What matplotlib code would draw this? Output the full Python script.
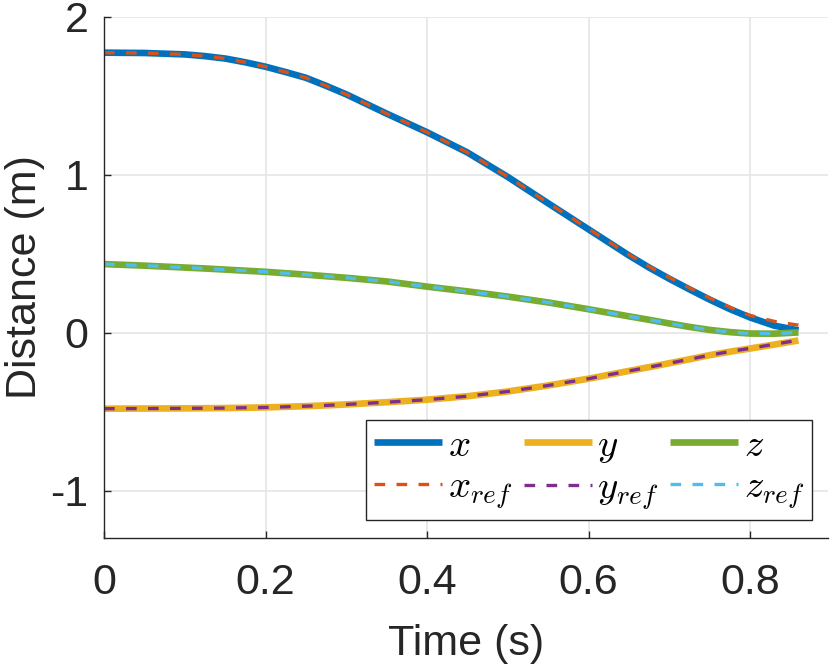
import numpy as np
import matplotlib.pyplot as plt

# values (time in s, distance in m)
t = [0.0, 0.05, 0.10, 0.125, 0.15, 0.175, 0.20, 0.225, 0.25, 0.275, 0.30, 0.35, 0.40,
     0.45, 0.50, 0.55, 0.60, 0.65, 0.675, 0.70, 0.725, 0.75, 0.775, 0.80, 0.83, 0.86]
x = [1.774, 1.772, 1.763, 1.752, 1.737, 1.713, 1.685, 1.651, 1.615, 1.564, 1.510, 1.388, 1.270,
     1.142, 0.987, 0.820, 0.655, 0.490, 0.413, 0.342, 0.275, 0.210, 0.150, 0.097, 0.045, 0.015]
x_ref = [1.774, 1.772, 1.763, 1.752, 1.737, 1.713, 1.685, 1.651, 1.615, 1.564, 1.510, 1.388, 1.270,
         1.142, 0.988, 0.822, 0.658, 0.495, 0.419, 0.350, 0.284, 0.220, 0.162, 0.110, 0.072, 0.048]
y = [-0.481, -0.480, -0.479, -0.478, -0.477, -0.475, -0.473, -0.469, -0.465, -0.460, -0.454, -0.440, -0.424,
     -0.402, -0.372, -0.334, -0.291, -0.242, -0.218, -0.193, -0.168, -0.142, -0.120, -0.100, -0.075, -0.049]
y_ref = [-0.481, -0.480, -0.479, -0.478, -0.477, -0.475, -0.473, -0.469, -0.465, -0.460, -0.454, -0.440, -0.424,
         -0.402, -0.372, -0.334, -0.291, -0.242, -0.218, -0.193, -0.168, -0.142, -0.119, -0.099, -0.073, -0.047]
z = [0.435, 0.425, 0.413, 0.407, 0.400, 0.393, 0.386, 0.377, 0.368, 0.358, 0.348, 0.325, 0.292,
     0.262, 0.229, 0.192, 0.149, 0.104, 0.082, 0.059, 0.037, 0.018, 0.004, -0.005, -0.006, 0.002]
z_ref = [0.435, 0.425, 0.413, 0.407, 0.400, 0.393, 0.386, 0.377, 0.368, 0.358, 0.348, 0.325, 0.292,
         0.262, 0.229, 0.192, 0.149, 0.104, 0.082, 0.059, 0.037, 0.018, 0.004, -0.004, -0.005, 0.002]

plt.rcParams['font.family'] = ['Liberation Sans', 'DejaVu Sans']
plt.rcParams['mathtext.fontset'] = 'cm'

fig = plt.figure(figsize=(8.3, 6.66), dpi=100)
ax = fig.add_axes([0.1253, 0.1922, 0.8723, 0.7823])

solid = dict(lw=4.8, solid_capstyle='butt', solid_joinstyle='round')
dash = dict(lw=2.4, dashes=(3.2, 3.4))
ax.plot(t, x, color='#0072BD', label='$x$', **solid)
ax.plot(t, x_ref, color='#D95319', label='$x_{ref}$', **dash)
ax.plot(t, y, color='#EDB120', label='$y$', **solid)
ax.plot(t, y_ref, color='#7E2F8E', label='$y_{ref}$', **dash)
ax.plot(t, z, color='#77AC30', label='$z$', **solid)
ax.plot(t, z_ref, color='#4DBEEE', label='$z_{ref}$', **dash)

ax.set_xlim(0, 0.8966)
ax.set_ylim(-1.3, 2)
ax.set_xticks([0, 0.2, 0.4, 0.6, 0.8])
ax.set_xticklabels(['0', '0.2', '0.4', '0.6', '0.8'])
ax.set_yticks([-1, 0, 1, 2])
ax.set_yticklabels(['-1', '0', '1', '2'])
ax.grid(True, color='#e5e5e5', lw=1.2)
ax.set_axisbelow(True)

for s in ['top', 'right']:
    ax.spines[s].set_visible(False)
for s in ['left', 'bottom']:
    ax.spines[s].set_color('#262626')
    ax.spines[s].set_linewidth(1.0)
ax.tick_params(direction='in', length=5, width=1.0, colors='#262626',
               labelsize=31)
ax.tick_params(axis='x', pad=18)
ax.tick_params(axis='y', pad=11)

ax.set_xlabel('Time (s)', fontsize=31, color='#262626', labelpad=15)
ax.set_ylabel('Distance (m)', fontsize=31, color='#262626', labelpad=4)

leg = ax.legend(ncol=3, loc='lower right', bbox_to_anchor=(0.978, 0.0345),
                borderaxespad=0, fontsize=28, fancybox=False, framealpha=1,
                edgecolor='#262626', handlelength=1.75, columnspacing=0.3,
                handletextpad=0.15, borderpad=0.2, labelspacing=0.15)
leg.get_frame().set_linewidth(1.0)

fig.savefig('out.png', dpi=100)
